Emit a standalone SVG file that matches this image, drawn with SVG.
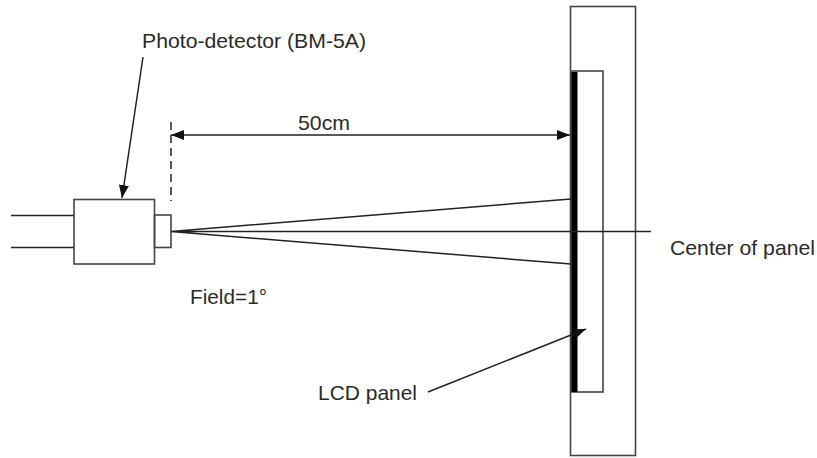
<svg xmlns="http://www.w3.org/2000/svg" width="817" height="458" viewBox="0 0 817 458">
<style>
text{font-family:"Liberation Sans",Arial,sans-serif;font-size:21px;fill:#2a2a2a}
.s{fill:none;stroke:#444;stroke-width:1.6}
.c{fill:none;stroke:#222;stroke-width:1.5}
</style>
<defs><marker id="a" markerUnits="userSpaceOnUse" markerWidth="14" markerHeight="12" refX="13" refY="5" orient="auto-start-reverse"><path d="M0 0L13 5L0 10Z" fill="#111"/></marker></defs>
<rect width="817" height="458" fill="#fff"/>
<g id="housing"><rect class="s" x="570.500" y="6.500" width="65" height="449"/></g>
<g id="panel-frame"><rect class="s" x="572" y="71" width="31" height="321"/></g>
<g id="lcd-panel"><rect x="571.500" y="72" width="6" height="320" fill="#000"/></g>
<g id="detector-body"><rect class="s" x="74" y="199.500" width="80.500" height="64.500"/></g>
<g id="detector-lens"><rect class="s" x="154.500" y="215" width="16.500" height="32.500"/></g>
<g id="connectors">
<path class="c" d="M11 215.500H74M11 247.500H74"/>
<path class="c" d="M171 231.500L571 199M171 231.500H651M171 231.500L571 264"/>
<path class="c" d="M171 122V201" stroke-dasharray="8 5" stroke-width="2"/>
<path class="c" d="M171 135H570" marker-start="url(#a)" marker-end="url(#a)"/>
<path class="c" d="M143 57L122 198" marker-end="url(#a)"/>
<path class="c" d="M428 392L586 329" marker-end="url(#a)"/>
</g>
<text x="142" y="48" textLength="224" lengthAdjust="spacingAndGlyphs">Photo-detector (BM-5A)</text>
<text x="298" y="130" textLength="52" lengthAdjust="spacingAndGlyphs">50cm</text>
<text x="670" y="255" textLength="145" lengthAdjust="spacingAndGlyphs">Center of panel</text>
<text x="190" y="304" textLength="77" lengthAdjust="spacingAndGlyphs">Field=1°</text>
<text x="318" y="400" textLength="99" lengthAdjust="spacingAndGlyphs">LCD panel</text>
</svg>
